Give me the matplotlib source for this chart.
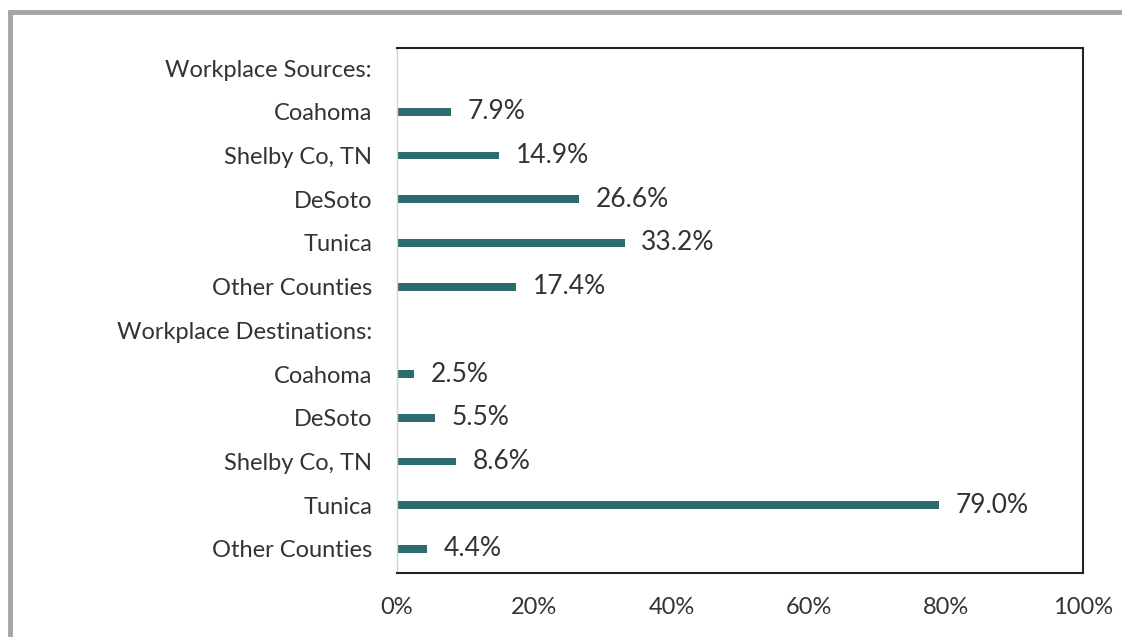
import matplotlib
matplotlib.use("Agg")
import matplotlib.pyplot as plt
from matplotlib.lines import Line2D

categories = ["Workplace Sources:", "Coahoma", "Shelby Co, TN", "DeSoto", "Tunica", "Other Counties",
              "Workplace Destinations:", "Coahoma", "DeSoto", "Shelby Co, TN", "Tunica", "Other Counties"]
values = [None, 7.9, 14.9, 26.6, 33.2, 17.4, None, 2.5, 5.5, 8.6, 79.0, 4.4]
xticks = [0, 20, 40, 60, 80, 100]
xticklabels = ["0%", "20%", "40%", "60%", "80%", "100%"]

plt.rcParams['font.family'] = ['Lato', 'DejaVu Sans']
W, H = 1122, 637
fig = plt.figure(figsize=(W/100, H/100), dpi=100)
fig.patch.set_facecolor("white")
ax = fig.add_axes([397/W, 1-573/H, (1083-397)/W, (573-48)/H])

bar_color = "#2d6b6f"
text_color = "#333333"
ys = list(range(len(categories)))
for y, v in zip(ys, values):
    if v is None:
        continue
    ax.barh(y, v, height=0.18, color=bar_color)
    ax.text(v + 2.4, y, f"{v:.1f}%", va="center", ha="left", fontsize=19, color=text_color)

ax.set_xlim(0, 100)
ax.set_ylim(11.55, -0.46)
ax.set_yticks(ys)
ax.set_yticklabels(categories, fontsize=17, color=text_color)
ax.set_xticks(xticks)
ax.set_xticklabels(xticklabels, fontsize=17, color=text_color)
ax.tick_params(axis="both", length=0)
ax.tick_params(axis="y", pad=18)
ax.tick_params(axis="x", pad=17)
for s in ["top", "right", "bottom"]:
    ax.spines[s].set_color("#222222")
    ax.spines[s].set_linewidth(1.5)
ax.spines["left"].set_color("#d0d0d0")
ax.spines["left"].set_linewidth(1.0)

# gray outer frame (top and left)
fig.add_artist(Line2D([10/W, 1.0], [1-12/H, 1-12/H], color="#a6a6a6", lw=3.5, transform=fig.transFigure))
fig.add_artist(Line2D([10/W, 10/W], [0.0, 1-12/H], color="#a6a6a6", lw=3.5, transform=fig.transFigure))

fig.savefig("out.png", dpi=100, facecolor="white")
